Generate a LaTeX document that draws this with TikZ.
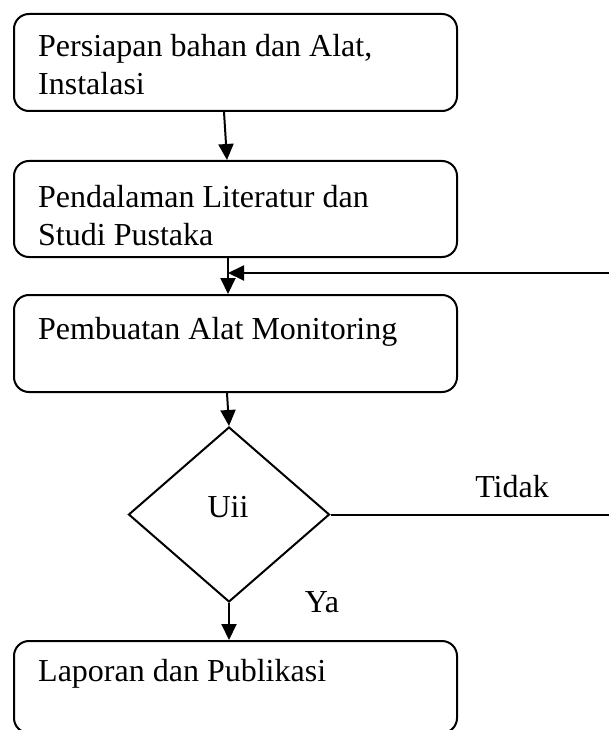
\documentclass[tikz,border=0pt]{standalone}
\usepackage{fontspec}
\setmainfont{Liberation Serif}
\usetikzlibrary{shapes.geometric,arrows.meta,calc}
\begin{document}
\begin{tikzpicture}[x=1pt,y=-1pt,
  box/.style={draw,rounded corners=15pt,line width=2pt,minimum width=443pt,inner sep=0pt,anchor=north west},
  txt/.style={anchor=base west,inner sep=0pt,font=\fontsize{32}{38}\selectfont,align=left},
  arr/.style={line width=2pt,-{Triangle[length=16pt,width=15pt]}},
  lbl/.style={inner sep=0pt,font=\fontsize{32}{38}\selectfont}]
\useasboundingbox (0,0) rectangle (609,730);
\clip (0,0) rectangle (609,730);
\node[box,minimum height=97pt] (b1) at (13,13) {};
\node[box,minimum height=96pt] (b2) at (13,160) {};
\node[box,minimum height=97pt] (b3) at (13,294) {};
\node[box,minimum height=92pt] (b4) at (13,640) {};
\node[txt] (t1) at (38,95) {Persiapan bahan dan Alat,\\Instalasi};
\node[txt] (t2) at (38,245) {Pendalaman Literatur dan\\Studi Pustaka};
\node[txt] (t3) at (38,339) {Pembuatan Alat Monitoring};
\node[txt] (t4) at (38,681) {Laporan dan Publikasi};
\node[draw,diamond,line width=2pt,inner sep=0pt,minimum width=201pt,minimum height=175pt] (uji) at (229,514.5) {};
\node[lbl] (tu) at (228,507) {Uii};
\node[lbl] (tt) at (512,487) {Tidak};
\node[lbl] (ty) at (322,602) {Ya};
\coordinate (rt) at (609.5,273);
\coordinate (fb) at (228,273);
\draw[arr] ([xshift=-11.5pt]b1.south) -- ([xshift=-8.5pt]b2.north);
\draw[arr] ([xshift=-7.5pt]b2.south) -- ([xshift=-7.5pt]b3.north);
\draw[arr] ([xshift=-8.5pt]b3.south) -- (uji.north);
\draw[arr] (uji.south) -- (uji.south |- b4.north);
\draw[arr] (uji.east) -| (rt) -- (fb);
\end{tikzpicture}
\end{document}
